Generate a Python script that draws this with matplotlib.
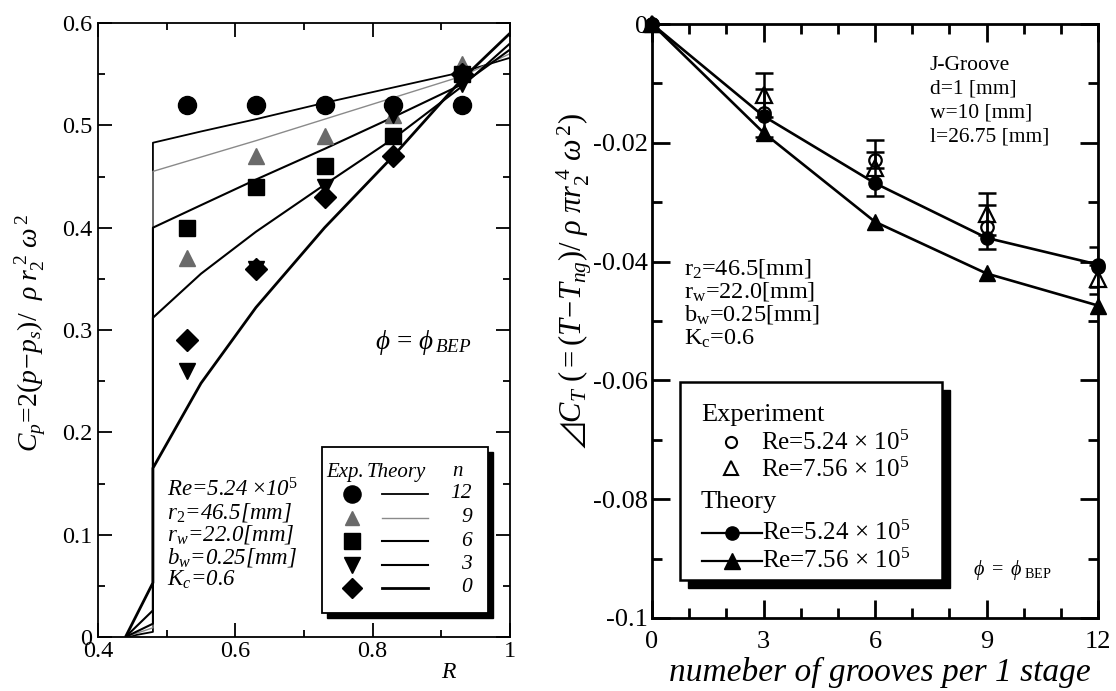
import matplotlib
matplotlib.use('Agg')
import matplotlib.pyplot as plt
from matplotlib.patches import Rectangle
from matplotlib.lines import Line2D
from matplotlib.ticker import MultipleLocator, FuncFormatter

plt.rcParams['font.family'] = ['Liberation Serif', 'DejaVu Serif', 'DejaVu Sans']
plt.rcParams['mathtext.fontset'] = 'custom'
plt.rcParams['mathtext.rm'] = 'Liberation Serif'
plt.rcParams['mathtext.it'] = 'Liberation Serif:italic'
plt.rcParams['mathtext.bf'] = 'Liberation Serif:bold'
plt.rcParams['mathtext.fallback'] = 'stix'
plt.rcParams['axes.unicode_minus'] = False

# ---------------- Left panel data ----------------
R_exp = [0.53, 0.63, 0.73, 0.83, 0.93]
cp_exp_n12 = [0.52, 0.52, 0.52, 0.52, 0.52]
cp_exp_n9 = [0.37, 0.47, 0.49, 0.51, 0.56]
cp_exp_n6 = [0.40, 0.44, 0.46, 0.49, 0.55]
cp_exp_n3 = [0.26, 0.36, 0.44, 0.51, 0.54]
cp_exp_n0 = [0.29, 0.36, 0.43, 0.47, 0.55]

R_theory = [0.44, 0.48, 0.48, 0.55, 0.63, 0.73, 0.83, 0.93, 1.0]
cp_th_n12 = [0.0, 0.005, 0.483, 0.494, 0.506, 0.522, 0.537, 0.552, 0.566]
cp_th_n9 = [0.0, 0.009, 0.455, 0.469, 0.485, 0.506, 0.527, 0.548, 0.570]
cp_th_n6 = [0.0, 0.013, 0.400, 0.422, 0.447, 0.477, 0.508, 0.540, 0.574]
cp_th_n3 = [0.0, 0.026, 0.312, 0.355, 0.396, 0.442, 0.487, 0.538, 0.580]
cp_th_n0 = [0.0, 0.053, 0.165, 0.248, 0.322, 0.400, 0.470, 0.545, 0.590]
n_labels = ['12', '9', '6', '3', '0']

# ---------------- Right panel data ----------------
grooves = [0, 3, 6, 9, 12]
dct_th_re524 = [0.0, -0.0155, -0.0268, -0.0360, -0.0405]
dct_th_re756 = [0.0, -0.0183, -0.0333, -0.0420, -0.0474]
dct_exp_re524 = [0.0, -0.0150, -0.0229, -0.0341, -0.0409]
dct_exp_re524_err = [0.0, 0.0040, 0.0014, 0.0037, 0.0034]
dct_exp_re756 = [0.0, -0.0120, -0.0242, -0.0320, -0.0430]
dct_exp_re756_err = [0.0, 0.0037, 0.0047, 0.0036, 0.0025]

W, H = 1116, 691
def fx(x):
    return x / W
def fy(y):
    return 1 - y / H

fig = plt.figure(figsize=(W / 100, H / 100), dpi=100)

# ================= LEFT =================
axL = fig.add_axes([fx(98), fy(637), (510 - 98) / W, (637 - 23) / H])
axL.set_xlim(0.4, 1.0)
axL.set_ylim(0.0, 0.6)

th_styles = [
    dict(color='black', lw=1.3),
    dict(color='#8a8a8a', lw=1.0),
    dict(color='black', lw=1.5),
    dict(color='black', lw=1.5),
    dict(color='black', lw=2.0),
]
th_data = [cp_th_n12, cp_th_n9, cp_th_n6, cp_th_n3, cp_th_n0]
for d, st in zip(th_data, th_styles):
    axL.plot(R_theory, d, solid_capstyle='butt', solid_joinstyle='round', **st, zorder=2)

exp_data = [cp_exp_n12, cp_exp_n9, cp_exp_n6, cp_exp_n3, cp_exp_n0]
exp_styles = [
    dict(marker='o', ms=13, color='black'),
    dict(marker='^', ms=11, color='#6a6a6a'),
    dict(marker='s', ms=12, color='black'),
    dict(marker='v', ms=12, color='black'),
    dict(marker='D', ms=11, color='black'),
]
for d, st in zip(exp_data, exp_styles):
    axL.plot(R_exp, d, ls='none', zorder=3, **st)

axL.xaxis.set_major_locator(MultipleLocator(0.2))
axL.xaxis.set_minor_locator(MultipleLocator(0.1))
axL.yaxis.set_major_locator(MultipleLocator(0.1))
axL.yaxis.set_minor_locator(MultipleLocator(0.05))
def fmtL(v, pos):
    s = ('%.1f' % v)
    if s in ('0.0',):
        return '0'
    if s == '1.0':
        return '1'
    return s
axL.xaxis.set_major_formatter(FuncFormatter(fmtL))
axL.yaxis.set_major_formatter(FuncFormatter(fmtL))
axL.tick_params(which='both', direction='in', top=True, right=True, width=1.3)
axL.tick_params(which='major', length=10, labelsize=17.5)
axL.tick_params(which='minor', length=5)
axL.tick_params(axis='x', pad=3)
axL.tick_params(axis='y', pad=4)
for sp in axL.spines.values():
    sp.set_linewidth(1.3)

fig.text(fx(31), fy(333),
         r'$C_p\!=\!2(p\!-\!p_s)/\ \ \rho\; r_2^{\ 2}\ \omega^{\,2}$',
         rotation=90, ha='center', va='center', fontsize=20)
fig.text(fx(448), fy(673), 'R', style='italic', fontsize=17, ha='center', va='center')
fig.text(fx(423), fy(342), r'$\phi\,=\,\phi_{\,BEP}$', fontsize=19.5, ha='center', va='center')

left_info = [r'Re=5.24 $\times$10$^{\mathit{5}}$', r'r$_{\mathit{2}}$=46.5[mm]',
             r'r$_{w}$=22.0[mm]', r'b$_{w}$=0.25[mm]', r'K$_{c}$=0.6']
for i, s in enumerate(left_info):
    fig.text(fx(167), fy(490 + 22.5 * i), s, style='italic', fontsize=16.5,
             ha='left', va='center')

# left legend box
fig.add_artist(Rectangle((fx(327), fy(618)), (488 - 322) / W, (613 - 447) / H,
                         transform=fig.transFigure, facecolor='black', edgecolor='black', zorder=5))
fig.add_artist(Rectangle((fx(322), fy(613)), (488 - 322) / W, (613 - 447) / H,
                         transform=fig.transFigure, facecolor='white', edgecolor='black',
                         lw=1.3, zorder=6))
fig.text(fx(326), fy(472), 'Exp.', style='italic', fontsize=15, ha='left', va='center', zorder=7)
fig.text(fx(367), fy(472), 'Theory', style='italic', fontsize=15, ha='left', va='center', zorder=7)
fig.text(fx(452), fy(472), 'n', style='italic', fontsize=15, ha='left', va='center', zorder=7)
for i, (est, tst, lab) in enumerate(zip(exp_styles, th_styles, n_labels)):
    yy = fy(494 + 23.5 * i)
    st = dict(est)
    st['ms'] = st['ms'] * 0.95
    fig.add_artist(Line2D([fx(352)], [yy], transform=fig.transFigure, ls='none', zorder=7, **st))
    fig.add_artist(Line2D([fx(382), fx(428)], [yy, yy], transform=fig.transFigure, zorder=7, **tst))
    fig.text(fx(472), yy, lab, style='italic', fontsize=15.5, ha='right', va='center', zorder=7)

# ================= RIGHT =================
axR = fig.add_axes([fx(652), fy(618), (1098 - 652) / W, (618 - 24) / H])
axR.set_xlim(0, 12)
axR.set_ylim(-0.1, 0.0)

axR.plot(grooves, dct_th_re524, color='black', lw=1.9, marker='o', ms=9.5, zorder=3, clip_on=False)
axR.plot(grooves, dct_th_re756, color='black', lw=1.9, marker='^', ms=11, zorder=3, clip_on=False)
axR.errorbar(grooves[1:], dct_exp_re524[1:], yerr=dct_exp_re524_err[1:], fmt='none',
             ecolor='black', elinewidth=1.8, capsize=6.5, capthick=1.8, zorder=4)
axR.errorbar(grooves[1:], dct_exp_re756[1:], yerr=dct_exp_re756_err[1:], fmt='none',
             ecolor='black', elinewidth=1.8, capsize=6.5, capthick=1.8, zorder=4)
axR.plot(grooves, dct_exp_re524, ls='none', marker='o', ms=9, mfc='none', mec='black',
         mew=1.6, zorder=5, clip_on=False)
axR.plot(grooves, dct_exp_re756, ls='none', marker='^', ms=11, mfc='none', mec='black',
         mew=1.6, zorder=5, clip_on=False)

axR.xaxis.set_major_locator(MultipleLocator(3))
axR.xaxis.set_minor_locator(MultipleLocator(1))
axR.yaxis.set_major_locator(MultipleLocator(0.02))
axR.yaxis.set_minor_locator(MultipleLocator(0.01))
def fmtRy(v, pos):
    if abs(v) < 1e-9:
        return '0'
    s = '%.2f' % v
    if s.endswith('0'):
        s = s[:-1]
    return s
axR.yaxis.set_major_formatter(FuncFormatter(fmtRy))
axR.xaxis.set_major_formatter(FuncFormatter(lambda v, p: '%d' % round(v)))
axR.tick_params(which='both', direction='in', top=True, right=True, width=2)
axR.tick_params(which='major', length=13, labelsize=19)
axR.tick_params(which='minor', length=7)
axR.tick_params(axis='x', pad=9)
axR.tick_params(axis='y', pad=3)
for sp in axR.spines.values():
    sp.set_linewidth(2)

ylab_R = ('$\u22bf' + r'C_T\ \mathrm{(=(}T\!-\!T_{ng}\mathrm{)/}\ \rho\ \pi r_2^{\ 4}\ \omega^{\,2}\mathrm{)}$')
fig.text(fx(574), fy(282), ylab_R, rotation=90, ha='center', va='center', fontsize=22)
fig.text(fx(880), fy(672), 'numeber of grooves per 1 stage', style='italic', fontsize=24,
         ha='center', va='center')

right_info1 = ['J-Groove', 'd=1 [mm]', 'w=10 [mm]', 'l=26.75 [mm]']
for i, s in enumerate(right_info1):
    fig.text(fx(930), fy(65 + 24 * i), s, fontsize=15.5, ha='left', va='center')
right_info2 = [r'r$_2$=46.5[mm]', r'r$_{\rm w}$=22.0[mm]', r'b$_{\rm w}$=0.25[mm]', r'K$_{\rm c}$=0.6']
for i, s in enumerate(right_info2):
    fig.text(fx(684), fy(268 + 23.5 * i), s, fontsize=17.5, ha='left', va='center')
fig.text(fx(973), fy(570), r'$\phi\ =\ \phi_{\ \rm BEP}$', fontsize=14.5, ha='left', va='center')

# right legend
fig.add_artist(Rectangle((fx(688), fy(588)), (942 - 680) / W, (580 - 382) / H,
                         transform=fig.transFigure, facecolor='black', edgecolor='black', zorder=5))
fig.add_artist(Rectangle((fx(680), fy(580)), (942 - 680) / W, (580 - 382) / H,
                         transform=fig.transFigure, facecolor='white', edgecolor='black',
                         lw=1.8, zorder=6))
leg_fs = 18
fig.text(fx(701), fy(415), 'Experiment', fontsize=19, ha='left', va='center', zorder=7)
fig.text(fx(701), fy(502), 'Theory', fontsize=19, ha='left', va='center', zorder=7)
re_labels = [r'Re=5.24$\,\times\,$10$^5$', r'Re=7.56$\,\times\,$10$^5$']
fig.add_artist(Line2D([fx(731)], [fy(442)], transform=fig.transFigure, ls='none', marker='o',
                      ms=8, mfc='none', mec='black', mew=1.5, zorder=7))
fig.add_artist(Line2D([fx(731)], [fy(468)], transform=fig.transFigure, ls='none', marker='^',
                      ms=10, mfc='none', mec='black', mew=1.5, zorder=7))
fig.text(fx(761), fy(443), re_labels[0], fontsize=leg_fs, ha='left', va='center', zorder=7)
fig.text(fx(761), fy(470), re_labels[1], fontsize=leg_fs, ha='left', va='center', zorder=7)
fig.add_artist(Line2D([fx(702), fx(762)], [fy(533), fy(533)], transform=fig.transFigure,
                      color='black', lw=1.6, zorder=7))
fig.add_artist(Line2D([fx(732)], [fy(533)], transform=fig.transFigure, ls='none', marker='o',
                      ms=9.5, color='black', zorder=7))
fig.add_artist(Line2D([fx(702), fx(762)], [fy(561), fy(561)], transform=fig.transFigure,
                      color='black', lw=1.6, zorder=7))
fig.add_artist(Line2D([fx(732)], [fy(561)], transform=fig.transFigure, ls='none', marker='^',
                      ms=11, color='black', zorder=7))
fig.text(fx(762), fy(533), re_labels[0], fontsize=leg_fs, ha='left', va='center', zorder=7)
fig.text(fx(762), fy(561), re_labels[1], fontsize=leg_fs, ha='left', va='center', zorder=7)

fig.savefig('out.png', dpi=100, facecolor='white')
